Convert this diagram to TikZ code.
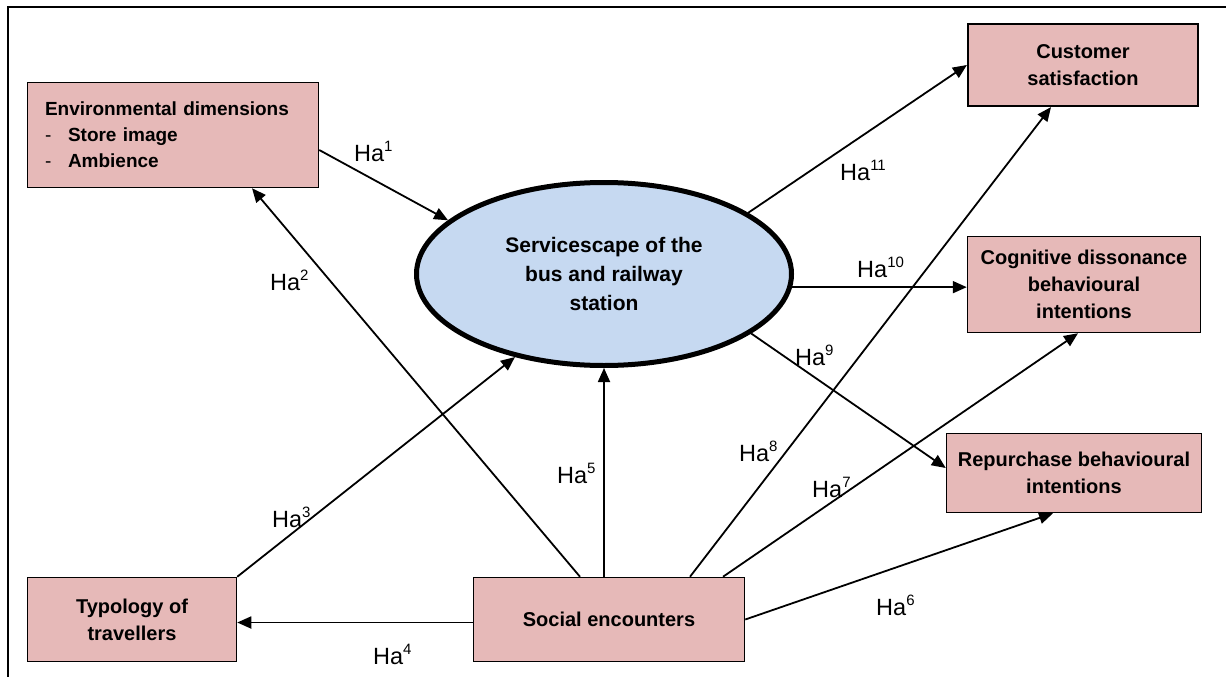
\documentclass[tikz,border=0pt]{standalone}
\usepackage{fontspec}
\setmainfont{Liberation Sans}
\usetikzlibrary{arrows.meta,shapes.geometric}

\definecolor{boxpink}{HTML}{E6B9B8}
\definecolor{ovalblue}{HTML}{C6D9F1}

\newcommand{\hyp}[1]{Ha\raisebox{0.4em}{\fontsize{15pt}{15pt}\selectfont #1}}

\tikzset{
  factor/.style={draw=black, line width=1.5pt, fill=boxpink, align=center, inner sep=0pt,
    font=\bfseries\fontsize{20pt}{27pt}\selectfont},
  link/.style={line width=1.8pt, -{Triangle[length=14pt,width=12pt]}},
  hlabel/.style={anchor=base west, inner sep=0pt, font=\fontsize{23.5pt}{24pt}\selectfont}
}

\begin{document}
\begin{tikzpicture}[x=1pt,y=-1pt]
  \useasboundingbox (0,0) rectangle (1226,677);
  % frame
  \draw[line width=1.5pt] (8,677) -- (8,7) -- (1226,7);

  % Servicescape
  \node[ellipse, draw, line width=5pt, fill=ovalblue, minimum width=375pt, minimum height=183pt,
    align=center, inner sep=0pt, font=\bfseries\fontsize{21pt}{29pt}\selectfont]
    (serv) at (604,274) {Servicescape of the\\bus and railway\\station};

  % Antecedents
  \node[factor, minimum width=291pt, minimum height=105pt, text width=256pt, align=left,
    font=\bfseries\fontsize{19pt}{26pt}\selectfont] (env) at (173,135)
    {Environmental dimensions\\\makebox[23pt][l]{\mdseries -}Store image\\\makebox[23pt][l]{\mdseries -}Ambience};
  \node[factor, minimum width=209pt, minimum height=84pt] (typ) at (132,619.5) {Typology of\\travellers};
  \node[factor, minimum width=271pt, minimum height=84pt] (soc) at (609,619.5) {Social encounters};

  % Outcomes
  \node[factor, line width=2.2pt, minimum width=230pt, minimum height=82pt] (cust) at (1083,65) {Customer\\satisfaction};
  \node[factor, minimum width=233pt, minimum height=96pt] (cog) at (1084,284.5) {Cognitive dissonance\\behavioural\\intentions};
  \node[factor, minimum width=255pt, minimum height=79pt] (rep) at (1074,473) {Repurchase behavioural\\intentions};

  % Paths
  \draw[link] ([yshift=-15pt]env.east) -- (serv.161);
  \draw[link] ([xshift=-29pt]soc.north) -- ([xshift=79pt]env.south);
  \draw[link] (typ.north east) -- (serv.223);
  \draw[link] ([yshift=-3pt]soc.west) -- ([yshift=-3pt]typ.east);
  \draw[link] (soc.north -| serv.south) -- (serv.south);
  \draw[link] (soc.east) -- ([xshift=-21pt]rep.south);
  \draw[link] ([xshift=114pt]soc.north) -- ([xshift=-6pt]cog.south);
  \draw[link] ([xshift=81pt]soc.north) -- ([xshift=-32pt]cust.south);
  \draw[link] (serv.-22) -- ([yshift=5pt]rep.west);
  \draw[link] (serv.-4.6) -- (serv.-4.6 -| cog.west);
  \draw[link] (serv.23) -- (cust.west);

  % Hypothesis labels
  \node[hlabel] (h1) at (354,161) {\hyp{1}};
  \node[hlabel] (h2) at (270,290) {\hyp{2}};
  \node[hlabel] (h3) at (272,527) {\hyp{3}};
  \node[hlabel] (h4) at (373,664) {\hyp{4}};
  \node[hlabel] (h5) at (557,483) {\hyp{5}};
  \node[hlabel] (h6) at (876,615) {\hyp{6}};
  \node[hlabel] (h7) at (812,497) {\hyp{7}};
  \node[hlabel] (h8) at (739,461) {\hyp{8}};
  \node[hlabel] (h9) at (795,365) {\hyp{9}};
  \node[hlabel] (h10) at (857,277) {\hyp{10}};
  \node[hlabel] (h11) at (840,180) {\hyp{11}};
\end{tikzpicture}
\end{document}
